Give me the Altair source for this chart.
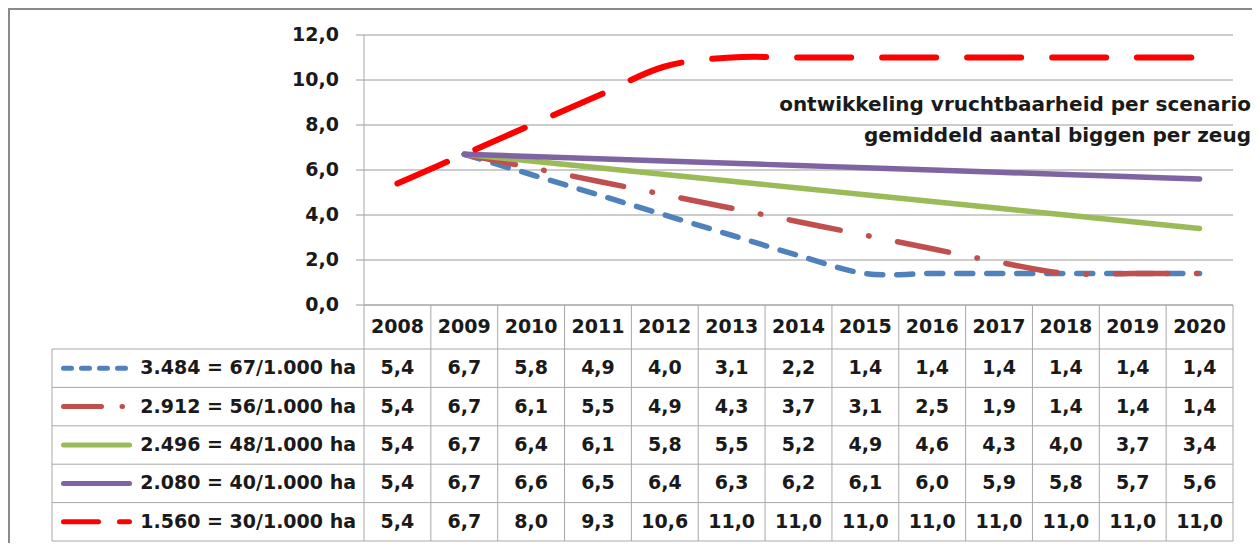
import altair as alt
import pandas as pd

# ---------------- data ----------------
years = list(range(2008, 2021))
series_names = [
    "3.484 = 67/1.000 ha",
    "2.912 = 56/1.000 ha",
    "2.496 = 48/1.000 ha",
    "2.080 = 40/1.000 ha",
    "1.560 = 30/1.000 ha",
]
s_3484 = [5.4, 6.7, 5.8, 4.9, 4.0, 3.1, 2.2, 1.4, 1.4, 1.4, 1.4, 1.4, 1.4]
s_2912 = [5.4, 6.7, 6.1, 5.5, 4.9, 4.3, 3.7, 3.1, 2.5, 1.9, 1.4, 1.4, 1.4]
s_2496 = [5.4, 6.7, 6.4, 6.1, 5.8, 5.5, 5.2, 4.9, 4.6, 4.3, 4.0, 3.7, 3.4]
s_2080 = [5.4, 6.7, 6.6, 6.5, 6.4, 6.3, 6.2, 6.1, 6.0, 5.9, 5.8, 5.7, 5.6]
s_1560 = [5.4, 6.7, 8.0, 9.3, 10.6, 11.0, 11.0, 11.0, 11.0, 11.0, 11.0, 11.0, 11.0]
series_values = [s_3484, s_2912, s_2496, s_2080, s_1560]
line_first_year = [2009, 2009, 2009, 2009, 2008]
y_ticks = [0, 2, 4, 6, 8, 10, 12]
title_lines = ["ontwikkeling vruchtbaarheid per scenario",
               "gemiddeld aantal biggen per zeug"]

# ---------------- styles ----------------
colors = ["#4F81BD", "#C0504D", "#9BBB59", "#8064A2", "#FF0000"]
line_dash = [[16, 14], [52, 29, 0.5, 29], None, None, [54, 31]]
swatch_dash = [[8, 10], [38, 20.5, 0.5, 20], None, None, [35, 21, 20, 20]]
FONT = "DejaVu Sans"
TXT = "#1a1a1a"
GRID = "#9a9a9a"
TABLE = "#a8a8a8"

# ---------------- layout (pixels -> scale units) ----------------
W, H = 1244, 535
UX = 869 / 13.0                  # px per category column
X0 = -356 / UX
X1 = X0 + W / UX
UY = 22.5                        # px per value unit
YT = 297 / UY
YB = -(H - 297) / UY


def px(p):   # page x -> x units
    return (p - 364) / UX


def py(p):   # page y -> y units
    return (305 - p) / UY


xs = alt.Scale(domain=[X0, X1], nice=False, zero=False)
ys = alt.Scale(domain=[YB, YT], nice=False, zero=False)

row_bounds = [349 + i * (541 - 349) / 5 for i in range(6)]
row_centers = [(row_bounds[i] + row_bounds[i + 1]) / 2 for i in range(5)]
label_left = px(52)

# ---------------- frames ----------------
grid_df = pd.DataFrame({"v": y_ticks, "x0": 0.0, "x1": 13.0,
                        "t0": px(356), "lx": px(339),
                        "lab": [f"{v:.1f}".replace(".", ",") for v in y_ticks]})

h_lines = [(0.0, 0.0, 13.0)] + [(py(b), label_left, 13.0) for b in row_bounds]
hl_df = pd.DataFrame(h_lines, columns=["y", "x0", "x1"])
v_lines = [(label_left, py(row_bounds[0]), py(row_bounds[-1])),
           (0.0, 12.0, py(row_bounds[-1]))] + \
          [(float(i), 0.0, py(row_bounds[-1])) for i in range(1, 14)]
vl_df = pd.DataFrame(v_lines, columns=["x", "y0", "y1"])

rows = []
for r, (name, vals) in enumerate(zip(series_names, series_values)):
    for yr, v in zip(years, vals):
        rows.append({"series": name, "r": r, "year": yr, "value": v,
                     "xc": yr - 2008 + 0.5, "yc": py(row_centers[r]),
                     "label": f"{v:.1f}".replace(".", ",")})
long_df = pd.DataFrame(rows)

year_df = pd.DataFrame({"year": [str(y) for y in years],
                        "xc": [y - 2008 + 0.5 for y in years],
                        "yc": py(327)})
name_df = pd.DataFrame({"name": series_names,
                        "xc": px(356),
                        "yc": [py(c) for c in row_centers]})

# ---------------- layers ----------------
layers = []

border_top = alt.Chart(pd.DataFrame({"a": [0]})).mark_rule(
    color="#8a8a8a", strokeWidth=2).encode(
    x=alt.value(0), x2=alt.value(W), y=alt.value(1))
border_left = alt.Chart(pd.DataFrame({"a": [0]})).mark_rule(
    color="#8a8a8a", strokeWidth=2).encode(
    x=alt.value(1), y=alt.value(0), y2=alt.value(H))
layers += [border_top, border_left]

grid = alt.Chart(grid_df).mark_rule(color=GRID, strokeWidth=1).encode(
    x=alt.X("x0:Q", scale=xs, axis=None),
    x2="x1:Q",
    y=alt.Y("v:Q", scale=ys, axis=None))
ticks = alt.Chart(grid_df).mark_rule(color=GRID, strokeWidth=1).encode(
    x=alt.X("t0:Q", scale=xs, axis=None),
    x2="x0:Q",
    y=alt.Y("v:Q", scale=ys, axis=None))
ylabels = alt.Chart(grid_df).mark_text(
    align="right", baseline="middle", font=FONT, fontSize=19,
    fontWeight="bold", color=TXT).encode(
    x=alt.X("lx:Q", scale=xs, axis=None),
    y=alt.Y("v:Q", scale=ys, axis=None), text="lab:N")
layers += [grid, ticks, ylabels]

hl = alt.Chart(hl_df).mark_rule(color=TABLE, strokeWidth=1).encode(
    x=alt.X("x0:Q", scale=xs, axis=None), x2="x1:Q",
    y=alt.Y("y:Q", scale=ys, axis=None))
vl = alt.Chart(vl_df).mark_rule(color=TABLE, strokeWidth=1).encode(
    x=alt.X("x:Q", scale=xs, axis=None),
    y=alt.Y("y0:Q", scale=ys, axis=None), y2="y1:Q")
layers += [hl, vl]

for r, name in enumerate(series_names):
    kw = dict(color=colors[r], strokeWidth=6 if r == 4 else 5.5,
              strokeCap="round", strokeJoin="round", interpolate="cardinal")
    if line_dash[r]:
        kw["strokeDash"] = line_dash[r]
    sub = long_df[(long_df.series == name) & (long_df.year >= line_first_year[r])]
    layers.append(alt.Chart(sub).mark_line(**kw).encode(
        x=alt.X("xc:Q", scale=xs, axis=None),
        y=alt.Y("value:Q", scale=ys, axis=None),
        order="year:Q"))

for r, name in enumerate(series_names):
    end = 124 if r == 1 else 129.5
    sw = pd.DataFrame({"x": [px(63.5), px(end)], "y": py(row_centers[r])})
    kw = dict(color=colors[r], strokeWidth=5, strokeCap="round")
    if swatch_dash[r]:
        kw["strokeDash"] = swatch_dash[r]
    layers.append(alt.Chart(sw).mark_line(**kw).encode(
        x=alt.X("x:Q", scale=xs, axis=None),
        y=alt.Y("y:Q", scale=ys, axis=None)))

txt_kw = dict(font=FONT, fontSize=19, fontWeight="bold", color=TXT)
layers.append(alt.Chart(year_df).mark_text(baseline="middle", **txt_kw).encode(
    x=alt.X("xc:Q", scale=xs, axis=None),
    y=alt.Y("yc:Q", scale=ys, axis=None), text="year:N"))
layers.append(alt.Chart(long_df).mark_text(baseline="middle", **txt_kw).encode(
    x=alt.X("xc:Q", scale=xs, axis=None),
    y=alt.Y("yc:Q", scale=ys, axis=None), text="label:N"))
layers.append(alt.Chart(name_df).mark_text(baseline="middle", align="right",
                                           **txt_kw).encode(
    x=alt.X("xc:Q", scale=xs, axis=None),
    y=alt.Y("yc:Q", scale=ys, axis=None), text="name:N"))

title_df = pd.DataFrame({"t": title_lines, "xc": px(1251), "yc": [py(111), py(142)]})
layers.append(alt.Chart(title_df).mark_text(
    align="right", baseline="alphabetic", font=FONT, fontSize=20,
    fontWeight="bold", color=TXT).encode(
    x=alt.X("xc:Q", scale=xs, axis=None),
    y=alt.Y("yc:Q", scale=ys, axis=None), text="t:N"))

chart = alt.layer(*layers).properties(
    width=W, height=H,
    autosize=alt.AutoSizeParams(type="none"),
    padding=0,
    background="white",
).configure_view(stroke=None)

chart.save("out.html", embed_options={"renderer": "svg", "actions": False})
